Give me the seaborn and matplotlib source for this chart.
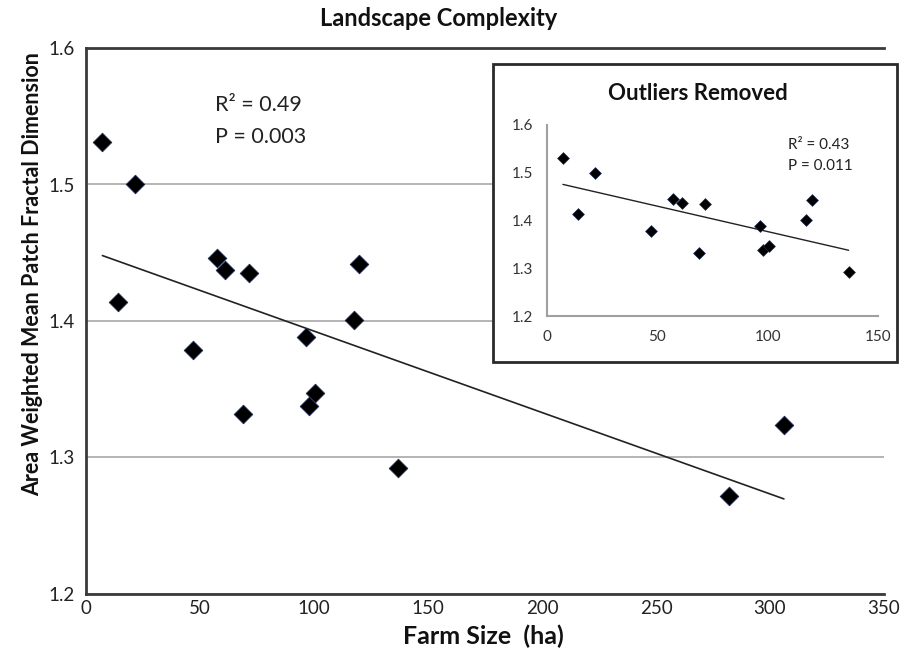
import matplotlib
matplotlib.use("Agg")
import matplotlib.pyplot as plt
import seaborn as sns
import pandas as pd
from matplotlib.patches import Rectangle

# ---- data ----
farm_size = [7.2, 14.2, 21.6, 47.1, 57.3, 61.0, 68.7, 71.5, 96.5, 98.0,
             100.4, 117.5, 119.9, 136.7, 282.0, 306.1]
fractal_dim = [1.531, 1.414, 1.500, 1.379, 1.446, 1.437, 1.332, 1.435, 1.388, 1.338,
               1.347, 1.401, 1.442, 1.292, 1.272, 1.324]
is_outlier = [False] * 14 + [True, True]

main_xticks = [0, 50, 100, 150, 200, 250, 300, 350]
main_yticks = [1.2, 1.3, 1.4, 1.5, 1.6]
inset_xticks = [0, 50, 100, 150]
inset_yticks = [1.2, 1.3, 1.4, 1.5, 1.6]

main_stats = ["R\u00b2 = 0.49", "P = 0.003"]
inset_stats = ["R\u00b2 = 0.43", "P = 0.011"]

sns.set_style("white")
plt.rcParams['font.family'] = ['Lato', 'DejaVu Sans']

W, H = 904, 660
fig = plt.figure(figsize=(W / 100, H / 100), dpi=100)

df = pd.DataFrame({"farm": farm_size, "fd": fractal_dim, "out": is_outlier})
df_in = df[~df["out"]]

# ---- main axes ----
ax = fig.add_axes([86 / W, 1 - 594 / H, 798 / W, 546 / H])
ax.set_zorder(0)
sns.regplot(data=df, x="farm", y="fd", scatter=False, ci=None, truncate=True,
            color="#222222", line_kws={"lw": 1.2}, ax=ax)
sns.scatterplot(data=df, x="farm", y="fd", marker="D", s=90, color="black",
                edgecolor="#1b2b50", linewidth=0.6, ax=ax, zorder=3, legend=False)
ax.set_xlim(0, 350)
ax.set_ylim(1.2, 1.6)
ax.set_xticks(main_xticks)
ax.set_yticks(main_yticks)
ax.set_xticklabels([str(v) for v in main_xticks])
ax.set_yticklabels([f"{v:.1f}" for v in main_yticks])
ax.yaxis.grid(True, color="#a8a8a8", lw=1.2)
ax.xaxis.grid(False)
ax.set_axisbelow(True)
ax.tick_params(length=0, labelsize=13.5, colors="#222222")
ax.tick_params(axis="y", pad=8)
ax.tick_params(axis="x", pad=4)
ax.set_xlabel("")
ax.set_ylabel("")
for side in ["top", "left", "bottom"]:
    ax.spines[side].set_visible(True)
    ax.spines[side].set_color("#3a3a3a")
    ax.spines[side].set_linewidth(2)
ax.spines["right"].set_visible(False)

# ---- inset frame ----
rect = Rectangle((493 / W, 1 - 362 / H), 404 / W, 298 / H, transform=fig.transFigure,
                 facecolor="white", edgecolor="#2a2a2a", lw=2, zorder=1)
fig.add_artist(rect)

# ---- inset axes ----
axi = fig.add_axes([547 / W, 1 - 316 / H, 331 / W, 191 / H])
axi.set_zorder(2)
axi.patch.set_alpha(0)
sns.regplot(data=df_in, x="farm", y="fd", scatter=False, ci=None, truncate=True,
            color="#222222", line_kws={"lw": 1.0}, ax=axi)
sns.scatterplot(data=df_in, x="farm", y="fd", marker="D", s=36, color="black",
                edgecolor="#1b2b50", linewidth=0.5, ax=axi, zorder=3, legend=False)
axi.set_xlim(0, 150)
axi.set_ylim(1.2, 1.6)
axi.set_xticks(inset_xticks)
axi.set_yticks(inset_yticks)
axi.set_xticklabels([str(v) for v in inset_xticks])
axi.set_yticklabels([f"{v:.1f}" for v in inset_yticks])
axi.grid(False)
axi.tick_params(length=0, labelsize=11, colors="#333333")
axi.tick_params(axis="y", pad=10)
axi.tick_params(axis="x", pad=10)
axi.set_xlabel("")
axi.set_ylabel("")
for side in ["left", "bottom"]:
    axi.spines[side].set_visible(True)
    axi.spines[side].set_color("#a0a0a0")
    axi.spines[side].set_linewidth(1.5)
axi.spines["top"].set_visible(False)
axi.spines["right"].set_visible(False)

# ---- texts ----
fig.text(439 / W, 1 - 18 / H, "Landscape Complexity", ha="center", va="center",
         fontsize=17, fontweight="bold", color="#111111")
fig.text(33 / W, 1 - 274 / H, "Area Weighted Mean Patch Fractal Dimension",
         rotation=90, ha="center", va="center", fontsize=15.5, fontweight="bold",
         color="#111111")
fig.text(483 / W, 1 - 636 / H, "Farm Size  (ha)", ha="center", va="center",
         fontsize=18, fontweight="bold", color="#111111")
fig.text(215 / W, 1 - 105 / H, main_stats[0], ha="left", va="center", fontsize=15.5,
         color="#222222")
fig.text(215 / W, 1 - 137 / H, main_stats[1], ha="left", va="center", fontsize=15.5,
         color="#222222")
fig.text(698 / W, 1 - 93 / H, "Outliers Removed", ha="center", va="center",
         fontsize=16, fontweight="bold", color="#111111", zorder=3)
fig.text(788 / W, 1 - 145 / H, inset_stats[0], ha="left", va="center", fontsize=11,
         color="#222222", zorder=3)
fig.text(788 / W, 1 - 166 / H, inset_stats[1], ha="left", va="center", fontsize=11,
         color="#222222", zorder=3)

fig.savefig("out.png", dpi=100)
